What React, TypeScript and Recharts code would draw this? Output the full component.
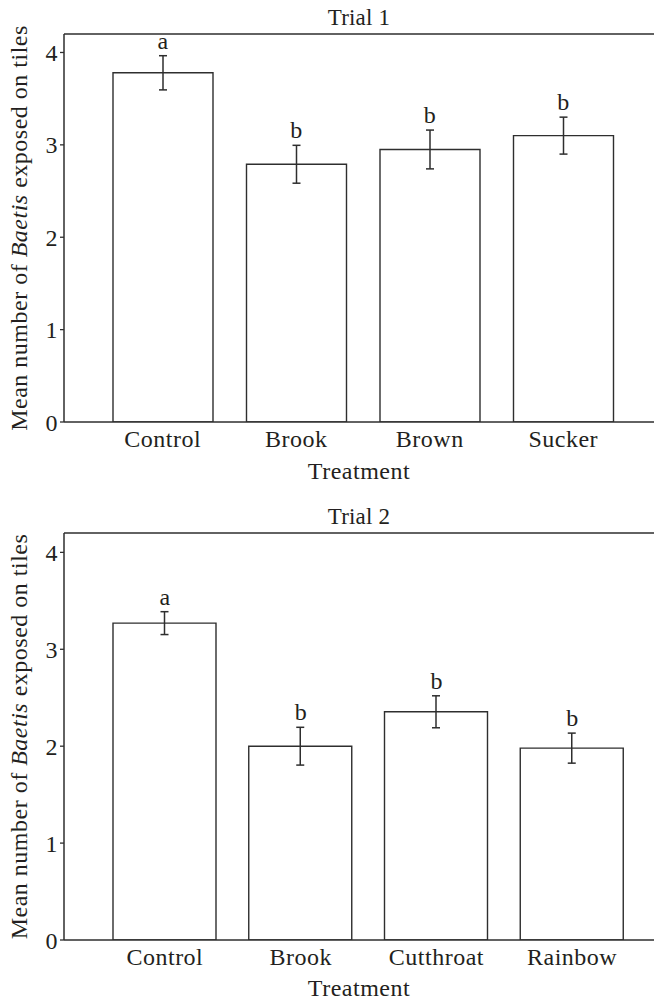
import React from 'react';
import { BarChart, Bar, XAxis, YAxis, ErrorBar, ReferenceDot, ReferenceLine } from 'recharts';

// Trial 1
const trial1Treatments = ['Control', 'Brook', 'Brown', 'Sucker'];
const trial1Means = [3.78, 2.79, 2.95, 3.1];
const trial1Errors = [0.185, 0.205, 0.21, 0.2];
const trial1Groups = ['a', 'b', 'b', 'b'];

// Trial 2
const trial2Treatments = ['Control', 'Brook', 'Cutthroat', 'Rainbow'];
const trial2Means = [3.27, 2.0, 2.355, 1.98];
const trial2Errors = [0.118, 0.195, 0.165, 0.155];
const trial2Groups = ['a', 'b', 'b', 'b'];

const yTicks = [0, 1, 2, 3, 4];
const yMax = 4.2;

const INK = '#231f20';
const LINE = '#2e2e2e';
const FONT = '"Liberation Serif", "Times New Roman", serif';

const textStyle = { fontFamily: FONT, fontSize: 24, fill: INK, letterSpacing: 0.5 };

interface TrialProps {
  title: string;
  treatments: string[];
  means: number[];
  errors: number[];
  groups: string[];
  height: number;
  marginTop: number;
  xAxisHeight: number;
  barSize: number;
  padding: { left: number; right: number };
  xLabelOffset: number;
}

const renderYLabel = (props: any) => {
  const vb = props.viewBox || {};
  const cy = (vb.y ?? 0) + (vb.height ?? 0) / 2;
  const x = 27;
  return (
    <text x={x} y={cy} transform={`rotate(-90 ${x} ${cy})`} textAnchor="middle" style={textStyle}>
      Mean number of <tspan fontStyle="italic">Baetis</tspan> exposed on tiles
    </text>
  );
};

const TrialChart: React.FC<TrialProps> = ({
  title,
  treatments,
  means,
  errors,
  groups,
  height,
  marginTop,
  xAxisHeight,
  barSize,
  padding,
  xLabelOffset
}) => {
  const data = treatments.map((t, i) => ({
    treatment: t,
    mean: means[i],
    err: errors[i],
    top: means[i] + errors[i],
    group: groups[i]
  }));

  return (
    <BarChart width={655} height={height} data={data} margin={{ top: marginTop, right: 1, left: 0, bottom: 0 }}>
      <XAxis
        dataKey="treatment"
        interval={0}
        padding={padding}
        height={xAxisHeight}
        tickLine={false}
        tickSize={0}
        tickMargin={8}
        axisLine={{ stroke: LINE, strokeWidth: 1.5 }}
        tick={textStyle}
        label={{ value: 'Treatment', position: 'insideBottom', offset: xLabelOffset, style: textStyle }}
      />
      <YAxis
        width={64}
        domain={[0, yMax]}
        ticks={yTicks}
        allowDataOverflow
        tickSize={4}
        tickMargin={2}
        tickLine={{ stroke: LINE, strokeWidth: 1.3 }}
        axisLine={{ stroke: LINE, strokeWidth: 1.5 }}
        tick={textStyle}
        label={renderYLabel}
      />
      <ReferenceLine
        y={yMax}
        stroke={LINE}
        strokeWidth={1.5}
        ifOverflow="visible"
        label={{ value: title, position: 'top', offset: 9, style: { ...textStyle, fontSize: 23, letterSpacing: 0.2 } }}
      />
      <Bar dataKey="mean" fill="#ffffff" stroke={LINE} strokeWidth={1.4} barSize={barSize} isAnimationActive={false}>
        <ErrorBar dataKey="err" width={4} stroke={LINE} strokeWidth={1.5} direction="y" />
      </Bar>
      {data.map((d) => (
        <ReferenceDot
          key={d.treatment}
          x={d.treatment}
          y={d.top}
          r={1}
          ifOverflow="visible"
          shape={(p: any) => (
            <text x={p.cx} y={p.cy - 7} textAnchor="middle" style={{ ...textStyle, letterSpacing: 0 }}>
              {d.group}
            </text>
          )}
        />
      ))}
    </BarChart>
  );
};

export default function App() {
  return (
    <div style={{ position: 'absolute', left: 0, top: 0, width: 655, height: 1001, background: '#fff' }}>
      <div style={{ position: 'absolute', left: 0, top: 0 }}>
        <TrialChart
          title="Trial 1"
          treatments={trial1Treatments}
          means={trial1Means}
          errors={trial1Errors}
          groups={trial1Groups}
          height={495}
          marginTop={34}
          xAxisHeight={73}
          barSize={100}
          padding={{ left: 32, right: 24 }}
          xLabelOffset={16}
        />
      </div>
      <div style={{ position: 'absolute', left: 0, top: 495 }}>
        <TrialChart
          title="Trial 2"
          treatments={trial2Treatments}
          means={trial2Means}
          errors={trial2Errors}
          groups={trial2Groups}
          height={506}
          marginTop={38}
          xAxisHeight={61}
          barSize={103}
          padding={{ left: 33, right: 14 }}
          xLabelOffset={5}
        />
      </div>
    </div>
  );
}
